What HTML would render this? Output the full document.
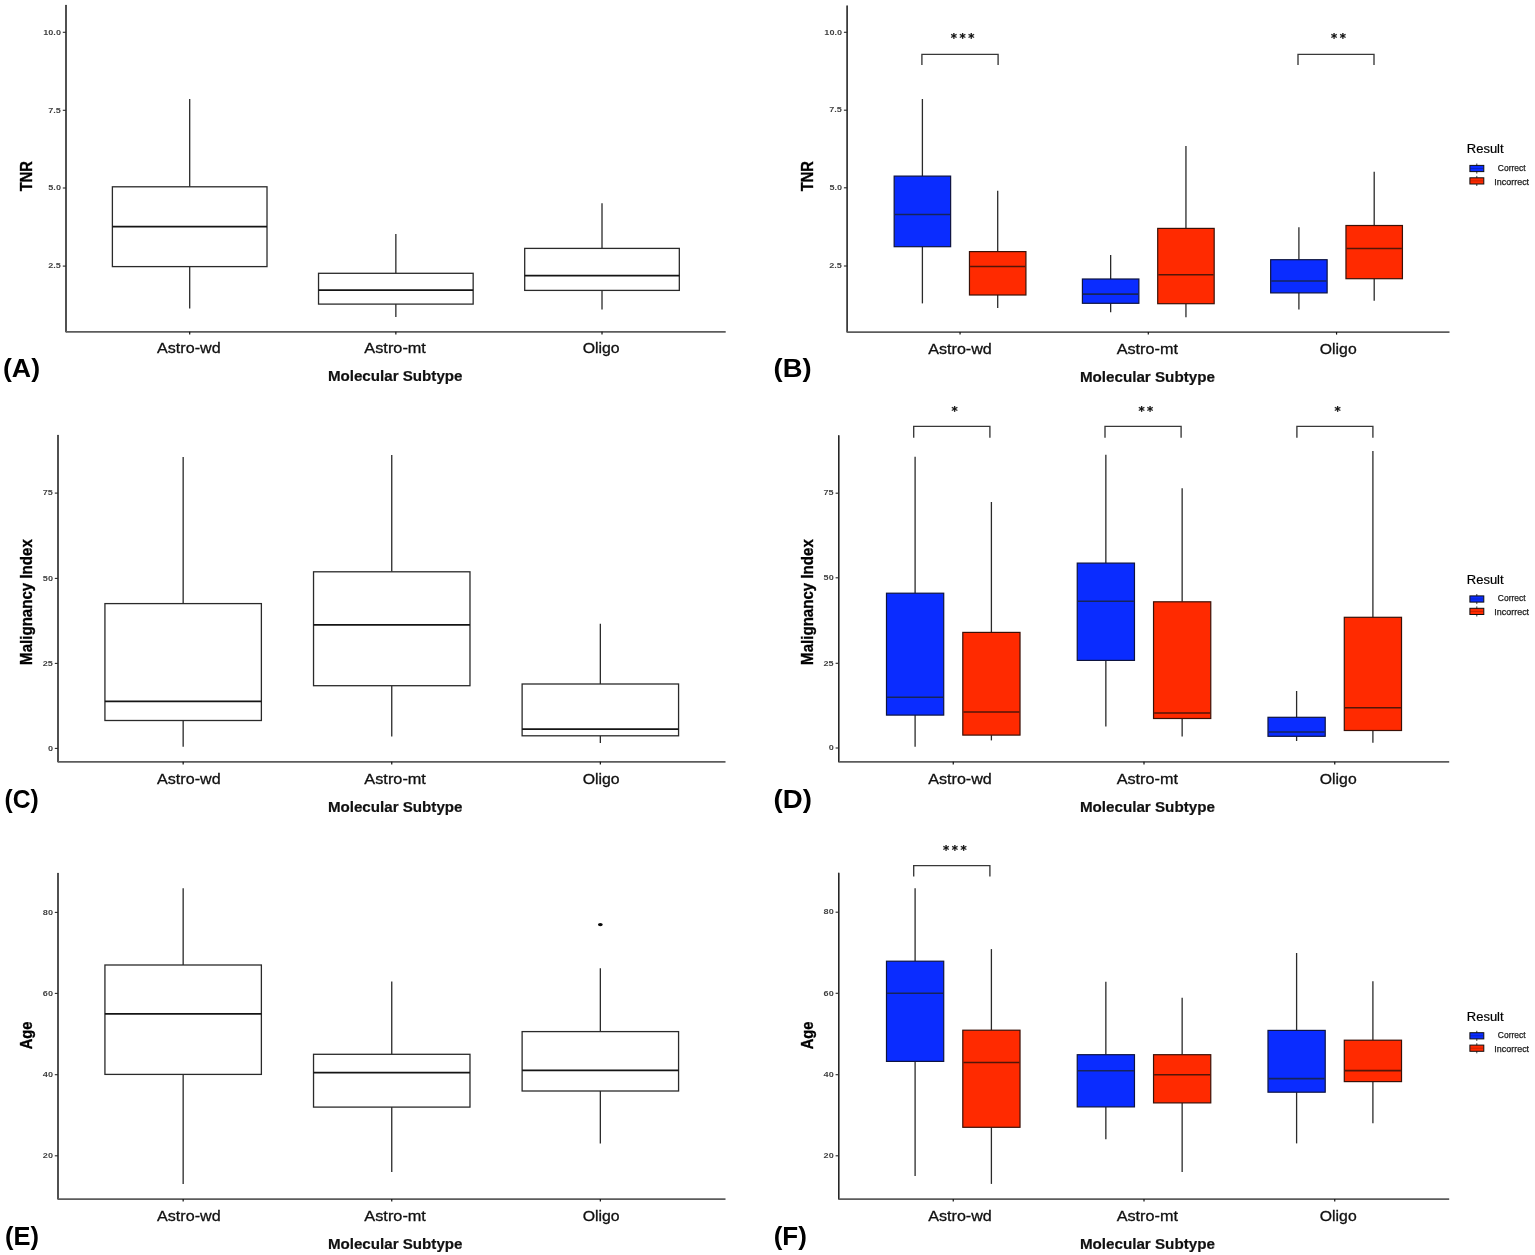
<!DOCTYPE html>
<html><head><meta charset="utf-8"><title>Figure</title>
<style>html,body{margin:0;padding:0;background:#fff;}svg{display:block;}</style>
</head><body>
<svg width="1535" height="1255" viewBox="0 0 1535 1255">
<rect width="1535" height="1255" fill="#fff"/>
<line x1="66.00" y1="5.60" x2="66.00" y2="331.80" stroke="#252525" stroke-width="1.6" stroke-linecap="round"/>
<line x1="66.00" y1="331.90" x2="725.70" y2="331.90" stroke="#5c5c5c" stroke-width="1.7" stroke-linecap="butt"/>
<line x1="62.80" y1="32.30" x2="66.00" y2="32.30" stroke="#2a2a2a" stroke-width="1.1" stroke-linecap="butt"/>
<text transform="translate(60.97,34.50) scale(1.45,1)" x="0" y="0" text-anchor="end" font-family="Liberation Sans, Arial, sans-serif" font-weight="bold" font-size="6.3" fill="#404040">10.0</text>
<line x1="62.80" y1="110.30" x2="66.00" y2="110.30" stroke="#2a2a2a" stroke-width="1.1" stroke-linecap="butt"/>
<text transform="translate(60.85,112.50) scale(1.45,1)" x="0" y="0" text-anchor="end" font-family="Liberation Sans, Arial, sans-serif" font-weight="bold" font-size="6.3" fill="#404040">7.5</text>
<line x1="62.80" y1="188.00" x2="66.00" y2="188.00" stroke="#2a2a2a" stroke-width="1.1" stroke-linecap="butt"/>
<text transform="translate(60.97,190.20) scale(1.45,1)" x="0" y="0" text-anchor="end" font-family="Liberation Sans, Arial, sans-serif" font-weight="bold" font-size="6.3" fill="#404040">5.0</text>
<line x1="62.80" y1="266.10" x2="66.00" y2="266.10" stroke="#2a2a2a" stroke-width="1.1" stroke-linecap="butt"/>
<text transform="translate(60.85,268.30) scale(1.45,1)" x="0" y="0" text-anchor="end" font-family="Liberation Sans, Arial, sans-serif" font-weight="bold" font-size="6.3" fill="#404040">2.5</text>
<line x1="189.69" y1="331.80" x2="189.69" y2="334.40" stroke="#111" stroke-width="1.2" stroke-linecap="butt"/>
<line x1="395.85" y1="331.80" x2="395.85" y2="334.40" stroke="#111" stroke-width="1.2" stroke-linecap="butt"/>
<line x1="602.01" y1="331.80" x2="602.01" y2="334.40" stroke="#111" stroke-width="1.2" stroke-linecap="butt"/>
<line x1="189.69" y1="99.10" x2="189.69" y2="186.80" stroke="#2a2a2a" stroke-width="1.3" stroke-linecap="butt"/>
<line x1="189.69" y1="266.60" x2="189.69" y2="308.40" stroke="#2a2a2a" stroke-width="1.3" stroke-linecap="butt"/>
<rect x="112.39" y="186.80" width="154.62" height="79.80" fill="#fff" stroke="#2a2a2a" stroke-width="1.3"/>
<line x1="112.39" y1="226.50" x2="267.00" y2="226.50" stroke="#141414" stroke-width="1.75" stroke-linecap="butt"/>
<line x1="395.85" y1="233.90" x2="395.85" y2="273.30" stroke="#2a2a2a" stroke-width="1.3" stroke-linecap="butt"/>
<line x1="395.85" y1="304.10" x2="395.85" y2="317.10" stroke="#2a2a2a" stroke-width="1.3" stroke-linecap="butt"/>
<rect x="318.54" y="273.30" width="154.62" height="30.80" fill="#fff" stroke="#2a2a2a" stroke-width="1.3"/>
<line x1="318.54" y1="290.20" x2="473.16" y2="290.20" stroke="#141414" stroke-width="1.75" stroke-linecap="butt"/>
<line x1="602.01" y1="203.20" x2="602.01" y2="248.40" stroke="#2a2a2a" stroke-width="1.3" stroke-linecap="butt"/>
<line x1="602.01" y1="290.40" x2="602.01" y2="309.40" stroke="#2a2a2a" stroke-width="1.3" stroke-linecap="butt"/>
<rect x="524.70" y="248.40" width="154.62" height="42.00" fill="#fff" stroke="#2a2a2a" stroke-width="1.3"/>
<line x1="524.70" y1="275.50" x2="679.31" y2="275.50" stroke="#141414" stroke-width="1.75" stroke-linecap="butt"/>
<text x="157.07" y="352.80" font-family="Liberation Sans, Arial, sans-serif" font-weight="normal" font-size="14.70" textLength="63.57" lengthAdjust="spacingAndGlyphs" fill="#111" stroke="#111" stroke-width="0.3">Astro-wd</text>
<text x="364.37" y="352.80" font-family="Liberation Sans, Arial, sans-serif" font-weight="normal" font-size="14.70" textLength="61.55" lengthAdjust="spacingAndGlyphs" fill="#111" stroke="#111" stroke-width="0.3">Astro-mt</text>
<text x="582.65" y="352.80" font-family="Liberation Sans, Arial, sans-serif" font-weight="normal" font-size="14.70" textLength="37.02" lengthAdjust="spacingAndGlyphs" fill="#111" stroke="#111" stroke-width="0.3">Oligo</text>
<text x="327.89" y="381.30" font-family="Liberation Sans, Arial, sans-serif" font-weight="bold" font-size="15.20" textLength="134.63" lengthAdjust="spacingAndGlyphs" fill="#111" stroke="#111" stroke-width="0.2">Molecular Subtype</text>
<text transform="translate(32.20,191.16) rotate(-90)" x="0" y="0" font-family="Liberation Sans, Arial, sans-serif" font-weight="bold" font-size="16.57" textLength="30.06" lengthAdjust="spacingAndGlyphs" fill="#000" stroke="#000" stroke-width="0.35">TNR</text>
<text x="2.97" y="376.50" font-family="Liberation Sans, Arial, sans-serif" font-weight="bold" font-size="26.50" textLength="37.06" lengthAdjust="spacingAndGlyphs" fill="#000">(A)</text>
<line x1="58.00" y1="435.50" x2="58.00" y2="761.80" stroke="#252525" stroke-width="1.6" stroke-linecap="round"/>
<line x1="58.00" y1="761.90" x2="725.50" y2="761.90" stroke="#5c5c5c" stroke-width="1.7" stroke-linecap="butt"/>
<line x1="54.80" y1="493.10" x2="58.00" y2="493.10" stroke="#2a2a2a" stroke-width="1.1" stroke-linecap="butt"/>
<text transform="translate(52.85,495.30) scale(1.45,1)" x="0" y="0" text-anchor="end" font-family="Liberation Sans, Arial, sans-serif" font-weight="bold" font-size="6.3" fill="#404040">75</text>
<line x1="54.80" y1="578.40" x2="58.00" y2="578.40" stroke="#2a2a2a" stroke-width="1.1" stroke-linecap="butt"/>
<text transform="translate(52.97,580.60) scale(1.45,1)" x="0" y="0" text-anchor="end" font-family="Liberation Sans, Arial, sans-serif" font-weight="bold" font-size="6.3" fill="#404040">50</text>
<line x1="54.80" y1="663.40" x2="58.00" y2="663.40" stroke="#2a2a2a" stroke-width="1.1" stroke-linecap="butt"/>
<text transform="translate(52.85,665.60) scale(1.45,1)" x="0" y="0" text-anchor="end" font-family="Liberation Sans, Arial, sans-serif" font-weight="bold" font-size="6.3" fill="#404040">25</text>
<line x1="54.80" y1="748.40" x2="58.00" y2="748.40" stroke="#2a2a2a" stroke-width="1.1" stroke-linecap="butt"/>
<text transform="translate(52.97,750.60) scale(1.45,1)" x="0" y="0" text-anchor="end" font-family="Liberation Sans, Arial, sans-serif" font-weight="bold" font-size="6.3" fill="#404040">0</text>
<line x1="183.16" y1="761.80" x2="183.16" y2="764.40" stroke="#111" stroke-width="1.2" stroke-linecap="butt"/>
<line x1="391.75" y1="761.80" x2="391.75" y2="764.40" stroke="#111" stroke-width="1.2" stroke-linecap="butt"/>
<line x1="600.34" y1="761.80" x2="600.34" y2="764.40" stroke="#111" stroke-width="1.2" stroke-linecap="butt"/>
<line x1="183.16" y1="456.90" x2="183.16" y2="603.60" stroke="#2a2a2a" stroke-width="1.3" stroke-linecap="butt"/>
<line x1="183.16" y1="720.50" x2="183.16" y2="746.80" stroke="#2a2a2a" stroke-width="1.3" stroke-linecap="butt"/>
<rect x="104.93" y="603.60" width="156.45" height="116.90" fill="#fff" stroke="#2a2a2a" stroke-width="1.3"/>
<line x1="104.93" y1="701.40" x2="261.38" y2="701.40" stroke="#141414" stroke-width="1.75" stroke-linecap="butt"/>
<line x1="391.75" y1="454.90" x2="391.75" y2="571.80" stroke="#2a2a2a" stroke-width="1.3" stroke-linecap="butt"/>
<line x1="391.75" y1="685.70" x2="391.75" y2="736.50" stroke="#2a2a2a" stroke-width="1.3" stroke-linecap="butt"/>
<rect x="313.53" y="571.80" width="156.45" height="113.90" fill="#fff" stroke="#2a2a2a" stroke-width="1.3"/>
<line x1="313.53" y1="624.90" x2="469.97" y2="624.90" stroke="#141414" stroke-width="1.75" stroke-linecap="butt"/>
<line x1="600.34" y1="623.80" x2="600.34" y2="684.00" stroke="#2a2a2a" stroke-width="1.3" stroke-linecap="butt"/>
<line x1="600.34" y1="735.80" x2="600.34" y2="743.00" stroke="#2a2a2a" stroke-width="1.3" stroke-linecap="butt"/>
<rect x="522.12" y="684.00" width="156.45" height="51.80" fill="#fff" stroke="#2a2a2a" stroke-width="1.3"/>
<line x1="522.12" y1="729.00" x2="678.57" y2="729.00" stroke="#141414" stroke-width="1.75" stroke-linecap="butt"/>
<text x="157.07" y="784.10" font-family="Liberation Sans, Arial, sans-serif" font-weight="normal" font-size="14.70" textLength="63.57" lengthAdjust="spacingAndGlyphs" fill="#111" stroke="#111" stroke-width="0.3">Astro-wd</text>
<text x="364.37" y="784.10" font-family="Liberation Sans, Arial, sans-serif" font-weight="normal" font-size="14.70" textLength="61.55" lengthAdjust="spacingAndGlyphs" fill="#111" stroke="#111" stroke-width="0.3">Astro-mt</text>
<text x="582.65" y="784.10" font-family="Liberation Sans, Arial, sans-serif" font-weight="normal" font-size="14.70" textLength="37.02" lengthAdjust="spacingAndGlyphs" fill="#111" stroke="#111" stroke-width="0.3">Oligo</text>
<text x="327.89" y="812.10" font-family="Liberation Sans, Arial, sans-serif" font-weight="bold" font-size="15.20" textLength="134.63" lengthAdjust="spacingAndGlyphs" fill="#111" stroke="#111" stroke-width="0.2">Molecular Subtype</text>
<text transform="translate(32.20,664.91) rotate(-90)" x="0" y="0" font-family="Liberation Sans, Arial, sans-serif" font-weight="bold" font-size="16.57" textLength="125.72" lengthAdjust="spacingAndGlyphs" fill="#000" stroke="#000" stroke-width="0.35">Malignancy Index</text>
<text x="4.57" y="808.20" font-family="Liberation Sans, Arial, sans-serif" font-weight="bold" font-size="26.50" textLength="34.26" lengthAdjust="spacingAndGlyphs" fill="#000">(C)</text>
<line x1="58.00" y1="873.50" x2="58.00" y2="1199.00" stroke="#252525" stroke-width="1.6" stroke-linecap="round"/>
<line x1="58.00" y1="1199.10" x2="725.50" y2="1199.10" stroke="#5c5c5c" stroke-width="1.7" stroke-linecap="butt"/>
<line x1="54.80" y1="912.40" x2="58.00" y2="912.40" stroke="#2a2a2a" stroke-width="1.1" stroke-linecap="butt"/>
<text transform="translate(52.97,914.60) scale(1.45,1)" x="0" y="0" text-anchor="end" font-family="Liberation Sans, Arial, sans-serif" font-weight="bold" font-size="6.3" fill="#404040">80</text>
<line x1="54.80" y1="993.40" x2="58.00" y2="993.40" stroke="#2a2a2a" stroke-width="1.1" stroke-linecap="butt"/>
<text transform="translate(52.97,995.60) scale(1.45,1)" x="0" y="0" text-anchor="end" font-family="Liberation Sans, Arial, sans-serif" font-weight="bold" font-size="6.3" fill="#404040">60</text>
<line x1="54.80" y1="1074.70" x2="58.00" y2="1074.70" stroke="#2a2a2a" stroke-width="1.1" stroke-linecap="butt"/>
<text transform="translate(52.97,1076.90) scale(1.45,1)" x="0" y="0" text-anchor="end" font-family="Liberation Sans, Arial, sans-serif" font-weight="bold" font-size="6.3" fill="#404040">40</text>
<line x1="54.80" y1="1155.80" x2="58.00" y2="1155.80" stroke="#2a2a2a" stroke-width="1.1" stroke-linecap="butt"/>
<text transform="translate(52.97,1158.00) scale(1.45,1)" x="0" y="0" text-anchor="end" font-family="Liberation Sans, Arial, sans-serif" font-weight="bold" font-size="6.3" fill="#404040">20</text>
<line x1="183.16" y1="1199.00" x2="183.16" y2="1201.60" stroke="#111" stroke-width="1.2" stroke-linecap="butt"/>
<line x1="391.75" y1="1199.00" x2="391.75" y2="1201.60" stroke="#111" stroke-width="1.2" stroke-linecap="butt"/>
<line x1="600.34" y1="1199.00" x2="600.34" y2="1201.60" stroke="#111" stroke-width="1.2" stroke-linecap="butt"/>
<line x1="183.16" y1="888.20" x2="183.16" y2="965.00" stroke="#2a2a2a" stroke-width="1.3" stroke-linecap="butt"/>
<line x1="183.16" y1="1074.40" x2="183.16" y2="1183.90" stroke="#2a2a2a" stroke-width="1.3" stroke-linecap="butt"/>
<rect x="104.93" y="965.00" width="156.45" height="109.40" fill="#fff" stroke="#2a2a2a" stroke-width="1.3"/>
<line x1="104.93" y1="1013.80" x2="261.38" y2="1013.80" stroke="#141414" stroke-width="1.75" stroke-linecap="butt"/>
<line x1="391.75" y1="981.50" x2="391.75" y2="1054.30" stroke="#2a2a2a" stroke-width="1.3" stroke-linecap="butt"/>
<line x1="391.75" y1="1107.10" x2="391.75" y2="1171.90" stroke="#2a2a2a" stroke-width="1.3" stroke-linecap="butt"/>
<rect x="313.53" y="1054.30" width="156.45" height="52.80" fill="#fff" stroke="#2a2a2a" stroke-width="1.3"/>
<line x1="313.53" y1="1072.70" x2="469.97" y2="1072.70" stroke="#141414" stroke-width="1.75" stroke-linecap="butt"/>
<line x1="600.34" y1="968.20" x2="600.34" y2="1031.60" stroke="#2a2a2a" stroke-width="1.3" stroke-linecap="butt"/>
<line x1="600.34" y1="1091.00" x2="600.34" y2="1143.40" stroke="#2a2a2a" stroke-width="1.3" stroke-linecap="butt"/>
<rect x="522.12" y="1031.60" width="156.45" height="59.40" fill="#fff" stroke="#2a2a2a" stroke-width="1.3"/>
<line x1="522.12" y1="1070.40" x2="678.57" y2="1070.40" stroke="#141414" stroke-width="1.75" stroke-linecap="butt"/>
<ellipse cx="600.34" cy="924.60" rx="2.4" ry="1.65" fill="#0a0a0a"/>
<text x="157.07" y="1221.00" font-family="Liberation Sans, Arial, sans-serif" font-weight="normal" font-size="14.70" textLength="63.57" lengthAdjust="spacingAndGlyphs" fill="#111" stroke="#111" stroke-width="0.3">Astro-wd</text>
<text x="364.37" y="1221.00" font-family="Liberation Sans, Arial, sans-serif" font-weight="normal" font-size="14.70" textLength="61.55" lengthAdjust="spacingAndGlyphs" fill="#111" stroke="#111" stroke-width="0.3">Astro-mt</text>
<text x="582.65" y="1221.00" font-family="Liberation Sans, Arial, sans-serif" font-weight="normal" font-size="14.70" textLength="37.02" lengthAdjust="spacingAndGlyphs" fill="#111" stroke="#111" stroke-width="0.3">Oligo</text>
<text x="327.89" y="1249.30" font-family="Liberation Sans, Arial, sans-serif" font-weight="bold" font-size="15.20" textLength="134.63" lengthAdjust="spacingAndGlyphs" fill="#111" stroke="#111" stroke-width="0.2">Molecular Subtype</text>
<text transform="translate(32.20,1049.36) rotate(-90)" x="0" y="0" font-family="Liberation Sans, Arial, sans-serif" font-weight="bold" font-size="16.57" textLength="27.67" lengthAdjust="spacingAndGlyphs" fill="#000" stroke="#000" stroke-width="0.35">Age</text>
<text x="4.93" y="1244.80" font-family="Liberation Sans, Arial, sans-serif" font-weight="bold" font-size="26.50" textLength="33.94" lengthAdjust="spacingAndGlyphs" fill="#000">(E)</text>
<line x1="847.10" y1="6.00" x2="847.10" y2="332.00" stroke="#252525" stroke-width="1.6" stroke-linecap="round"/>
<line x1="847.10" y1="332.10" x2="1449.50" y2="332.10" stroke="#5c5c5c" stroke-width="1.7" stroke-linecap="butt"/>
<line x1="843.90" y1="32.30" x2="847.10" y2="32.30" stroke="#2a2a2a" stroke-width="1.1" stroke-linecap="butt"/>
<text transform="translate(842.07,34.50) scale(1.45,1)" x="0" y="0" text-anchor="end" font-family="Liberation Sans, Arial, sans-serif" font-weight="bold" font-size="6.3" fill="#404040">10.0</text>
<line x1="843.90" y1="110.20" x2="847.10" y2="110.20" stroke="#2a2a2a" stroke-width="1.1" stroke-linecap="butt"/>
<text transform="translate(841.95,112.40) scale(1.45,1)" x="0" y="0" text-anchor="end" font-family="Liberation Sans, Arial, sans-serif" font-weight="bold" font-size="6.3" fill="#404040">7.5</text>
<line x1="843.90" y1="187.80" x2="847.10" y2="187.80" stroke="#2a2a2a" stroke-width="1.1" stroke-linecap="butt"/>
<text transform="translate(842.07,190.00) scale(1.45,1)" x="0" y="0" text-anchor="end" font-family="Liberation Sans, Arial, sans-serif" font-weight="bold" font-size="6.3" fill="#404040">5.0</text>
<line x1="843.90" y1="266.00" x2="847.10" y2="266.00" stroke="#2a2a2a" stroke-width="1.1" stroke-linecap="butt"/>
<text transform="translate(841.95,268.20) scale(1.45,1)" x="0" y="0" text-anchor="end" font-family="Liberation Sans, Arial, sans-serif" font-weight="bold" font-size="6.3" fill="#404040">2.5</text>
<line x1="960.05" y1="332.00" x2="960.05" y2="334.60" stroke="#111" stroke-width="1.2" stroke-linecap="butt"/>
<line x1="1148.30" y1="332.00" x2="1148.30" y2="334.60" stroke="#111" stroke-width="1.2" stroke-linecap="butt"/>
<line x1="1336.55" y1="332.00" x2="1336.55" y2="334.60" stroke="#111" stroke-width="1.2" stroke-linecap="butt"/>
<line x1="922.40" y1="99.00" x2="922.40" y2="176.10" stroke="#2a2a2a" stroke-width="1.3" stroke-linecap="butt"/>
<line x1="922.40" y1="246.70" x2="922.40" y2="303.40" stroke="#2a2a2a" stroke-width="1.3" stroke-linecap="butt"/>
<rect x="894.16" y="176.10" width="56.47" height="70.60" fill="#0a2cff" stroke="#0e1440" stroke-width="1.2"/>
<line x1="894.76" y1="214.40" x2="950.04" y2="214.40" stroke="#16245c" stroke-width="1.55" stroke-linecap="butt"/>
<line x1="997.70" y1="190.80" x2="997.70" y2="251.60" stroke="#2a2a2a" stroke-width="1.3" stroke-linecap="butt"/>
<line x1="997.70" y1="295.00" x2="997.70" y2="308.00" stroke="#2a2a2a" stroke-width="1.3" stroke-linecap="butt"/>
<rect x="969.46" y="251.60" width="56.47" height="43.40" fill="#ff2a00" stroke="#3a1108" stroke-width="1.2"/>
<line x1="970.06" y1="266.50" x2="1025.34" y2="266.50" stroke="#521608" stroke-width="1.55" stroke-linecap="butt"/>
<line x1="1110.65" y1="255.10" x2="1110.65" y2="279.00" stroke="#2a2a2a" stroke-width="1.3" stroke-linecap="butt"/>
<line x1="1110.65" y1="303.30" x2="1110.65" y2="312.30" stroke="#2a2a2a" stroke-width="1.3" stroke-linecap="butt"/>
<rect x="1082.41" y="279.00" width="56.47" height="24.30" fill="#0a2cff" stroke="#0e1440" stroke-width="1.2"/>
<line x1="1083.01" y1="294.10" x2="1138.29" y2="294.10" stroke="#16245c" stroke-width="1.55" stroke-linecap="butt"/>
<line x1="1185.95" y1="145.90" x2="1185.95" y2="228.40" stroke="#2a2a2a" stroke-width="1.3" stroke-linecap="butt"/>
<line x1="1185.95" y1="303.70" x2="1185.95" y2="317.30" stroke="#2a2a2a" stroke-width="1.3" stroke-linecap="butt"/>
<rect x="1157.71" y="228.40" width="56.47" height="75.30" fill="#ff2a00" stroke="#3a1108" stroke-width="1.2"/>
<line x1="1158.31" y1="274.80" x2="1213.59" y2="274.80" stroke="#521608" stroke-width="1.55" stroke-linecap="butt"/>
<line x1="1298.90" y1="227.30" x2="1298.90" y2="259.70" stroke="#2a2a2a" stroke-width="1.3" stroke-linecap="butt"/>
<line x1="1298.90" y1="292.90" x2="1298.90" y2="309.50" stroke="#2a2a2a" stroke-width="1.3" stroke-linecap="butt"/>
<rect x="1270.66" y="259.70" width="56.47" height="33.20" fill="#0a2cff" stroke="#0e1440" stroke-width="1.2"/>
<line x1="1271.26" y1="280.90" x2="1326.54" y2="280.90" stroke="#16245c" stroke-width="1.55" stroke-linecap="butt"/>
<line x1="1374.20" y1="171.70" x2="1374.20" y2="225.50" stroke="#2a2a2a" stroke-width="1.3" stroke-linecap="butt"/>
<line x1="1374.20" y1="278.70" x2="1374.20" y2="300.80" stroke="#2a2a2a" stroke-width="1.3" stroke-linecap="butt"/>
<rect x="1345.96" y="225.50" width="56.47" height="53.20" fill="#ff2a00" stroke="#3a1108" stroke-width="1.2"/>
<line x1="1346.56" y1="248.40" x2="1401.84" y2="248.40" stroke="#521608" stroke-width="1.55" stroke-linecap="butt"/>
<path d="M921.90,64.90 L921.90,54.30 L998.10,54.30 L998.10,64.90" fill="none" stroke="#383838" stroke-width="1.35"/>
<text x="950.81" y="42.02" font-family="DejaVu Sans, sans-serif" font-weight="bold" font-size="11.8" letter-spacing="2.53" fill="#111" stroke="#111" stroke-width="0.25">***</text>
<path d="M1298.00,64.90 L1298.00,54.30 L1374.00,54.30 L1374.00,64.90" fill="none" stroke="#383838" stroke-width="1.35"/>
<text x="1330.96" y="41.92" font-family="DejaVu Sans, sans-serif" font-weight="bold" font-size="11.8" letter-spacing="2.53" fill="#111" stroke="#111" stroke-width="0.25">**</text>
<text x="928.27" y="354.10" font-family="Liberation Sans, Arial, sans-serif" font-weight="normal" font-size="14.70" textLength="63.57" lengthAdjust="spacingAndGlyphs" fill="#111" stroke="#111" stroke-width="0.3">Astro-wd</text>
<text x="1116.67" y="354.10" font-family="Liberation Sans, Arial, sans-serif" font-weight="normal" font-size="14.70" textLength="61.25" lengthAdjust="spacingAndGlyphs" fill="#111" stroke="#111" stroke-width="0.3">Astro-mt</text>
<text x="1319.85" y="354.10" font-family="Liberation Sans, Arial, sans-serif" font-weight="normal" font-size="14.70" textLength="36.81" lengthAdjust="spacingAndGlyphs" fill="#111" stroke="#111" stroke-width="0.3">Oligo</text>
<text x="1079.88" y="382.20" font-family="Liberation Sans, Arial, sans-serif" font-weight="bold" font-size="15.20" textLength="135.04" lengthAdjust="spacingAndGlyphs" fill="#111" stroke="#111" stroke-width="0.2">Molecular Subtype</text>
<text transform="translate(813.20,191.16) rotate(-90)" x="0" y="0" font-family="Liberation Sans, Arial, sans-serif" font-weight="bold" font-size="16.57" textLength="30.06" lengthAdjust="spacingAndGlyphs" fill="#000" stroke="#000" stroke-width="0.35">TNR</text>
<text x="773.64" y="376.70" font-family="Liberation Sans, Arial, sans-serif" font-weight="bold" font-size="26.50" textLength="38.03" lengthAdjust="spacingAndGlyphs" fill="#000">(B)</text>
<text x="1466.84" y="153.40" font-family="Liberation Sans, Arial, sans-serif" font-weight="normal" font-size="13.52" textLength="36.76" lengthAdjust="spacingAndGlyphs" fill="#000" stroke="#000" stroke-width="0.2">Result</text>
<line x1="1476.8" y1="163.50" x2="1476.8" y2="173.60" stroke="#222" stroke-width="0.9"/>
<rect x="1469.9" y="165.40" width="13.9" height="6.2" fill="#0a2cff" stroke="#111" stroke-width="1.0"/>
<line x1="1470.4" y1="168.50" x2="1483.3" y2="168.50" stroke="#000" stroke-opacity="0.35" stroke-width="0.6"/>
<text x="1497.87" y="170.60" font-family="Liberation Sans, Arial, sans-serif" font-weight="normal" font-size="8.57" textLength="27.79" lengthAdjust="spacingAndGlyphs" fill="#1a1a1a" stroke="#1a1a1a" stroke-width="0.25">Correct</text>
<line x1="1476.8" y1="175.90" x2="1476.8" y2="186.00" stroke="#222" stroke-width="0.9"/>
<rect x="1469.9" y="177.80" width="13.9" height="6.2" fill="#ff2a00" stroke="#111" stroke-width="1.0"/>
<line x1="1470.4" y1="180.90" x2="1483.3" y2="180.90" stroke="#000" stroke-opacity="0.35" stroke-width="0.6"/>
<text x="1494.38" y="184.60" font-family="Liberation Sans, Arial, sans-serif" font-weight="normal" font-size="8.57" textLength="34.69" lengthAdjust="spacingAndGlyphs" fill="#1a1a1a" stroke="#1a1a1a" stroke-width="0.25">Incorrect</text>
<line x1="838.80" y1="435.80" x2="838.80" y2="761.80" stroke="#252525" stroke-width="1.6" stroke-linecap="round"/>
<line x1="838.80" y1="761.90" x2="1449.20" y2="761.90" stroke="#5c5c5c" stroke-width="1.7" stroke-linecap="butt"/>
<line x1="835.60" y1="493.20" x2="838.80" y2="493.20" stroke="#2a2a2a" stroke-width="1.1" stroke-linecap="butt"/>
<text transform="translate(833.65,495.40) scale(1.45,1)" x="0" y="0" text-anchor="end" font-family="Liberation Sans, Arial, sans-serif" font-weight="bold" font-size="6.3" fill="#404040">75</text>
<line x1="835.60" y1="577.80" x2="838.80" y2="577.80" stroke="#2a2a2a" stroke-width="1.1" stroke-linecap="butt"/>
<text transform="translate(833.77,580.00) scale(1.45,1)" x="0" y="0" text-anchor="end" font-family="Liberation Sans, Arial, sans-serif" font-weight="bold" font-size="6.3" fill="#404040">50</text>
<line x1="835.60" y1="663.30" x2="838.80" y2="663.30" stroke="#2a2a2a" stroke-width="1.1" stroke-linecap="butt"/>
<text transform="translate(833.65,665.50) scale(1.45,1)" x="0" y="0" text-anchor="end" font-family="Liberation Sans, Arial, sans-serif" font-weight="bold" font-size="6.3" fill="#404040">25</text>
<line x1="835.60" y1="748.00" x2="838.80" y2="748.00" stroke="#2a2a2a" stroke-width="1.1" stroke-linecap="butt"/>
<text transform="translate(833.77,750.20) scale(1.45,1)" x="0" y="0" text-anchor="end" font-family="Liberation Sans, Arial, sans-serif" font-weight="bold" font-size="6.3" fill="#404040">0</text>
<line x1="953.25" y1="761.80" x2="953.25" y2="764.40" stroke="#111" stroke-width="1.2" stroke-linecap="butt"/>
<line x1="1144.00" y1="761.80" x2="1144.00" y2="764.40" stroke="#111" stroke-width="1.2" stroke-linecap="butt"/>
<line x1="1334.75" y1="761.80" x2="1334.75" y2="764.40" stroke="#111" stroke-width="1.2" stroke-linecap="butt"/>
<line x1="915.10" y1="456.70" x2="915.10" y2="593.20" stroke="#2a2a2a" stroke-width="1.3" stroke-linecap="butt"/>
<line x1="915.10" y1="715.10" x2="915.10" y2="746.80" stroke="#2a2a2a" stroke-width="1.3" stroke-linecap="butt"/>
<rect x="886.49" y="593.20" width="57.23" height="121.90" fill="#0a2cff" stroke="#0e1440" stroke-width="1.2"/>
<line x1="887.09" y1="697.20" x2="943.11" y2="697.20" stroke="#16245c" stroke-width="1.55" stroke-linecap="butt"/>
<line x1="991.40" y1="502.00" x2="991.40" y2="632.40" stroke="#2a2a2a" stroke-width="1.3" stroke-linecap="butt"/>
<line x1="991.40" y1="735.10" x2="991.40" y2="740.40" stroke="#2a2a2a" stroke-width="1.3" stroke-linecap="butt"/>
<rect x="962.79" y="632.40" width="57.23" height="102.70" fill="#ff2a00" stroke="#3a1108" stroke-width="1.2"/>
<line x1="963.39" y1="712.00" x2="1019.41" y2="712.00" stroke="#521608" stroke-width="1.55" stroke-linecap="butt"/>
<line x1="1105.85" y1="454.70" x2="1105.85" y2="563.10" stroke="#2a2a2a" stroke-width="1.3" stroke-linecap="butt"/>
<line x1="1105.85" y1="660.40" x2="1105.85" y2="726.50" stroke="#2a2a2a" stroke-width="1.3" stroke-linecap="butt"/>
<rect x="1077.24" y="563.10" width="57.23" height="97.30" fill="#0a2cff" stroke="#0e1440" stroke-width="1.2"/>
<line x1="1077.84" y1="601.20" x2="1133.86" y2="601.20" stroke="#16245c" stroke-width="1.55" stroke-linecap="butt"/>
<line x1="1182.15" y1="488.20" x2="1182.15" y2="601.80" stroke="#2a2a2a" stroke-width="1.3" stroke-linecap="butt"/>
<line x1="1182.15" y1="718.50" x2="1182.15" y2="736.50" stroke="#2a2a2a" stroke-width="1.3" stroke-linecap="butt"/>
<rect x="1153.54" y="601.80" width="57.23" height="116.70" fill="#ff2a00" stroke="#3a1108" stroke-width="1.2"/>
<line x1="1154.14" y1="712.90" x2="1210.16" y2="712.90" stroke="#521608" stroke-width="1.55" stroke-linecap="butt"/>
<line x1="1296.60" y1="691.00" x2="1296.60" y2="717.30" stroke="#2a2a2a" stroke-width="1.3" stroke-linecap="butt"/>
<line x1="1296.60" y1="736.30" x2="1296.60" y2="741.00" stroke="#2a2a2a" stroke-width="1.3" stroke-linecap="butt"/>
<rect x="1267.99" y="717.30" width="57.23" height="19.00" fill="#0a2cff" stroke="#0e1440" stroke-width="1.2"/>
<line x1="1268.59" y1="731.90" x2="1324.61" y2="731.90" stroke="#16245c" stroke-width="1.55" stroke-linecap="butt"/>
<line x1="1372.90" y1="450.90" x2="1372.90" y2="617.30" stroke="#2a2a2a" stroke-width="1.3" stroke-linecap="butt"/>
<line x1="1372.90" y1="730.50" x2="1372.90" y2="742.80" stroke="#2a2a2a" stroke-width="1.3" stroke-linecap="butt"/>
<rect x="1344.29" y="617.30" width="57.23" height="113.20" fill="#ff2a00" stroke="#3a1108" stroke-width="1.2"/>
<line x1="1344.89" y1="707.80" x2="1400.91" y2="707.80" stroke="#521608" stroke-width="1.55" stroke-linecap="butt"/>
<path d="M913.70,437.80 L913.70,426.30 L989.90,426.30 L989.90,437.80" fill="none" stroke="#383838" stroke-width="1.35"/>
<text x="951.51" y="414.92" font-family="DejaVu Sans, sans-serif" font-weight="bold" font-size="11.8" letter-spacing="2.53" fill="#111" stroke="#111" stroke-width="0.25">*</text>
<path d="M1105.00,437.80 L1105.00,426.30 L1181.10,426.30 L1181.10,437.80" fill="none" stroke="#383838" stroke-width="1.35"/>
<text x="1138.41" y="414.92" font-family="DejaVu Sans, sans-serif" font-weight="bold" font-size="11.8" letter-spacing="2.53" fill="#111" stroke="#111" stroke-width="0.25">**</text>
<path d="M1296.90,437.80 L1296.90,426.30 L1372.90,426.30 L1372.90,437.80" fill="none" stroke="#383838" stroke-width="1.35"/>
<text x="1334.51" y="414.92" font-family="DejaVu Sans, sans-serif" font-weight="bold" font-size="11.8" letter-spacing="2.53" fill="#111" stroke="#111" stroke-width="0.25">*</text>
<text x="928.27" y="784.20" font-family="Liberation Sans, Arial, sans-serif" font-weight="normal" font-size="14.70" textLength="63.57" lengthAdjust="spacingAndGlyphs" fill="#111" stroke="#111" stroke-width="0.3">Astro-wd</text>
<text x="1116.67" y="784.20" font-family="Liberation Sans, Arial, sans-serif" font-weight="normal" font-size="14.70" textLength="61.25" lengthAdjust="spacingAndGlyphs" fill="#111" stroke="#111" stroke-width="0.3">Astro-mt</text>
<text x="1319.85" y="784.20" font-family="Liberation Sans, Arial, sans-serif" font-weight="normal" font-size="14.70" textLength="36.81" lengthAdjust="spacingAndGlyphs" fill="#111" stroke="#111" stroke-width="0.3">Oligo</text>
<text x="1079.88" y="812.20" font-family="Liberation Sans, Arial, sans-serif" font-weight="bold" font-size="15.20" textLength="135.04" lengthAdjust="spacingAndGlyphs" fill="#111" stroke="#111" stroke-width="0.2">Molecular Subtype</text>
<text transform="translate(813.20,664.91) rotate(-90)" x="0" y="0" font-family="Liberation Sans, Arial, sans-serif" font-weight="bold" font-size="16.57" textLength="125.72" lengthAdjust="spacingAndGlyphs" fill="#000" stroke="#000" stroke-width="0.35">Malignancy Index</text>
<text x="773.62" y="808.20" font-family="Liberation Sans, Arial, sans-serif" font-weight="bold" font-size="26.50" textLength="38.35" lengthAdjust="spacingAndGlyphs" fill="#000">(D)</text>
<text x="1466.84" y="583.90" font-family="Liberation Sans, Arial, sans-serif" font-weight="normal" font-size="13.52" textLength="36.76" lengthAdjust="spacingAndGlyphs" fill="#000" stroke="#000" stroke-width="0.2">Result</text>
<line x1="1476.8" y1="594.00" x2="1476.8" y2="604.10" stroke="#222" stroke-width="0.9"/>
<rect x="1469.9" y="595.90" width="13.9" height="6.2" fill="#0a2cff" stroke="#111" stroke-width="1.0"/>
<line x1="1470.4" y1="599.00" x2="1483.3" y2="599.00" stroke="#000" stroke-opacity="0.35" stroke-width="0.6"/>
<text x="1497.87" y="601.10" font-family="Liberation Sans, Arial, sans-serif" font-weight="normal" font-size="8.57" textLength="27.79" lengthAdjust="spacingAndGlyphs" fill="#1a1a1a" stroke="#1a1a1a" stroke-width="0.25">Correct</text>
<line x1="1476.8" y1="606.40" x2="1476.8" y2="616.50" stroke="#222" stroke-width="0.9"/>
<rect x="1469.9" y="608.30" width="13.9" height="6.2" fill="#ff2a00" stroke="#111" stroke-width="1.0"/>
<line x1="1470.4" y1="611.40" x2="1483.3" y2="611.40" stroke="#000" stroke-opacity="0.35" stroke-width="0.6"/>
<text x="1494.38" y="615.10" font-family="Liberation Sans, Arial, sans-serif" font-weight="normal" font-size="8.57" textLength="34.69" lengthAdjust="spacingAndGlyphs" fill="#1a1a1a" stroke="#1a1a1a" stroke-width="0.25">Incorrect</text>
<line x1="838.80" y1="873.40" x2="838.80" y2="1199.00" stroke="#252525" stroke-width="1.6" stroke-linecap="round"/>
<line x1="838.80" y1="1199.10" x2="1449.20" y2="1199.10" stroke="#5c5c5c" stroke-width="1.7" stroke-linecap="butt"/>
<line x1="835.60" y1="912.20" x2="838.80" y2="912.20" stroke="#2a2a2a" stroke-width="1.1" stroke-linecap="butt"/>
<text transform="translate(833.77,914.40) scale(1.45,1)" x="0" y="0" text-anchor="end" font-family="Liberation Sans, Arial, sans-serif" font-weight="bold" font-size="6.3" fill="#404040">80</text>
<line x1="835.60" y1="993.30" x2="838.80" y2="993.30" stroke="#2a2a2a" stroke-width="1.1" stroke-linecap="butt"/>
<text transform="translate(833.77,995.50) scale(1.45,1)" x="0" y="0" text-anchor="end" font-family="Liberation Sans, Arial, sans-serif" font-weight="bold" font-size="6.3" fill="#404040">60</text>
<line x1="835.60" y1="1074.70" x2="838.80" y2="1074.70" stroke="#2a2a2a" stroke-width="1.1" stroke-linecap="butt"/>
<text transform="translate(833.77,1076.90) scale(1.45,1)" x="0" y="0" text-anchor="end" font-family="Liberation Sans, Arial, sans-serif" font-weight="bold" font-size="6.3" fill="#404040">40</text>
<line x1="835.60" y1="1155.80" x2="838.80" y2="1155.80" stroke="#2a2a2a" stroke-width="1.1" stroke-linecap="butt"/>
<text transform="translate(833.77,1158.00) scale(1.45,1)" x="0" y="0" text-anchor="end" font-family="Liberation Sans, Arial, sans-serif" font-weight="bold" font-size="6.3" fill="#404040">20</text>
<line x1="953.25" y1="1199.00" x2="953.25" y2="1201.60" stroke="#111" stroke-width="1.2" stroke-linecap="butt"/>
<line x1="1144.00" y1="1199.00" x2="1144.00" y2="1201.60" stroke="#111" stroke-width="1.2" stroke-linecap="butt"/>
<line x1="1334.75" y1="1199.00" x2="1334.75" y2="1201.60" stroke="#111" stroke-width="1.2" stroke-linecap="butt"/>
<line x1="915.10" y1="888.30" x2="915.10" y2="961.20" stroke="#2a2a2a" stroke-width="1.3" stroke-linecap="butt"/>
<line x1="915.10" y1="1061.40" x2="915.10" y2="1175.90" stroke="#2a2a2a" stroke-width="1.3" stroke-linecap="butt"/>
<rect x="886.49" y="961.20" width="57.23" height="100.20" fill="#0a2cff" stroke="#0e1440" stroke-width="1.2"/>
<line x1="887.09" y1="993.30" x2="943.11" y2="993.30" stroke="#16245c" stroke-width="1.55" stroke-linecap="butt"/>
<line x1="991.40" y1="949.10" x2="991.40" y2="1030.20" stroke="#2a2a2a" stroke-width="1.3" stroke-linecap="butt"/>
<line x1="991.40" y1="1127.30" x2="991.40" y2="1183.90" stroke="#2a2a2a" stroke-width="1.3" stroke-linecap="butt"/>
<rect x="962.79" y="1030.20" width="57.23" height="97.10" fill="#ff2a00" stroke="#3a1108" stroke-width="1.2"/>
<line x1="963.39" y1="1062.40" x2="1019.41" y2="1062.40" stroke="#521608" stroke-width="1.55" stroke-linecap="butt"/>
<line x1="1105.85" y1="981.80" x2="1105.85" y2="1054.70" stroke="#2a2a2a" stroke-width="1.3" stroke-linecap="butt"/>
<line x1="1105.85" y1="1106.90" x2="1105.85" y2="1139.20" stroke="#2a2a2a" stroke-width="1.3" stroke-linecap="butt"/>
<rect x="1077.24" y="1054.70" width="57.23" height="52.20" fill="#0a2cff" stroke="#0e1440" stroke-width="1.2"/>
<line x1="1077.84" y1="1070.80" x2="1133.86" y2="1070.80" stroke="#16245c" stroke-width="1.55" stroke-linecap="butt"/>
<line x1="1182.15" y1="997.70" x2="1182.15" y2="1054.70" stroke="#2a2a2a" stroke-width="1.3" stroke-linecap="butt"/>
<line x1="1182.15" y1="1102.90" x2="1182.15" y2="1172.00" stroke="#2a2a2a" stroke-width="1.3" stroke-linecap="butt"/>
<rect x="1153.54" y="1054.70" width="57.23" height="48.20" fill="#ff2a00" stroke="#3a1108" stroke-width="1.2"/>
<line x1="1154.14" y1="1074.80" x2="1210.16" y2="1074.80" stroke="#521608" stroke-width="1.55" stroke-linecap="butt"/>
<line x1="1296.60" y1="953.00" x2="1296.60" y2="1030.40" stroke="#2a2a2a" stroke-width="1.3" stroke-linecap="butt"/>
<line x1="1296.60" y1="1092.20" x2="1296.60" y2="1143.40" stroke="#2a2a2a" stroke-width="1.3" stroke-linecap="butt"/>
<rect x="1267.99" y="1030.40" width="57.23" height="61.80" fill="#0a2cff" stroke="#0e1440" stroke-width="1.2"/>
<line x1="1268.59" y1="1078.60" x2="1324.61" y2="1078.60" stroke="#16245c" stroke-width="1.55" stroke-linecap="butt"/>
<line x1="1372.90" y1="981.20" x2="1372.90" y2="1040.20" stroke="#2a2a2a" stroke-width="1.3" stroke-linecap="butt"/>
<line x1="1372.90" y1="1081.60" x2="1372.90" y2="1123.20" stroke="#2a2a2a" stroke-width="1.3" stroke-linecap="butt"/>
<rect x="1344.29" y="1040.20" width="57.23" height="41.40" fill="#ff2a00" stroke="#3a1108" stroke-width="1.2"/>
<line x1="1344.89" y1="1070.60" x2="1400.91" y2="1070.60" stroke="#521608" stroke-width="1.55" stroke-linecap="butt"/>
<path d="M913.70,876.40 L913.70,865.60 L989.90,865.60 L989.90,876.40" fill="none" stroke="#383838" stroke-width="1.35"/>
<text x="943.01" y="853.82" font-family="DejaVu Sans, sans-serif" font-weight="bold" font-size="11.8" letter-spacing="2.53" fill="#111" stroke="#111" stroke-width="0.25">***</text>
<text x="928.27" y="1221.00" font-family="Liberation Sans, Arial, sans-serif" font-weight="normal" font-size="14.70" textLength="63.57" lengthAdjust="spacingAndGlyphs" fill="#111" stroke="#111" stroke-width="0.3">Astro-wd</text>
<text x="1116.67" y="1221.00" font-family="Liberation Sans, Arial, sans-serif" font-weight="normal" font-size="14.70" textLength="61.25" lengthAdjust="spacingAndGlyphs" fill="#111" stroke="#111" stroke-width="0.3">Astro-mt</text>
<text x="1319.85" y="1221.00" font-family="Liberation Sans, Arial, sans-serif" font-weight="normal" font-size="14.70" textLength="36.81" lengthAdjust="spacingAndGlyphs" fill="#111" stroke="#111" stroke-width="0.3">Oligo</text>
<text x="1079.88" y="1249.30" font-family="Liberation Sans, Arial, sans-serif" font-weight="bold" font-size="15.20" textLength="135.04" lengthAdjust="spacingAndGlyphs" fill="#111" stroke="#111" stroke-width="0.2">Molecular Subtype</text>
<text transform="translate(813.20,1049.36) rotate(-90)" x="0" y="0" font-family="Liberation Sans, Arial, sans-serif" font-weight="bold" font-size="16.57" textLength="27.67" lengthAdjust="spacingAndGlyphs" fill="#000" stroke="#000" stroke-width="0.35">Age</text>
<text x="773.71" y="1244.80" font-family="Liberation Sans, Arial, sans-serif" font-weight="bold" font-size="26.50" textLength="33.19" lengthAdjust="spacingAndGlyphs" fill="#000">(F)</text>
<text x="1466.84" y="1020.70" font-family="Liberation Sans, Arial, sans-serif" font-weight="normal" font-size="13.52" textLength="36.76" lengthAdjust="spacingAndGlyphs" fill="#000" stroke="#000" stroke-width="0.2">Result</text>
<line x1="1476.8" y1="1030.80" x2="1476.8" y2="1040.90" stroke="#222" stroke-width="0.9"/>
<rect x="1469.9" y="1032.70" width="13.9" height="6.2" fill="#0a2cff" stroke="#111" stroke-width="1.0"/>
<line x1="1470.4" y1="1035.80" x2="1483.3" y2="1035.80" stroke="#000" stroke-opacity="0.35" stroke-width="0.6"/>
<text x="1497.87" y="1037.90" font-family="Liberation Sans, Arial, sans-serif" font-weight="normal" font-size="8.57" textLength="27.79" lengthAdjust="spacingAndGlyphs" fill="#1a1a1a" stroke="#1a1a1a" stroke-width="0.25">Correct</text>
<line x1="1476.8" y1="1043.20" x2="1476.8" y2="1053.30" stroke="#222" stroke-width="0.9"/>
<rect x="1469.9" y="1045.10" width="13.9" height="6.2" fill="#ff2a00" stroke="#111" stroke-width="1.0"/>
<line x1="1470.4" y1="1048.20" x2="1483.3" y2="1048.20" stroke="#000" stroke-opacity="0.35" stroke-width="0.6"/>
<text x="1494.38" y="1051.90" font-family="Liberation Sans, Arial, sans-serif" font-weight="normal" font-size="8.57" textLength="34.69" lengthAdjust="spacingAndGlyphs" fill="#1a1a1a" stroke="#1a1a1a" stroke-width="0.25">Incorrect</text>
</svg>
</body></html>
